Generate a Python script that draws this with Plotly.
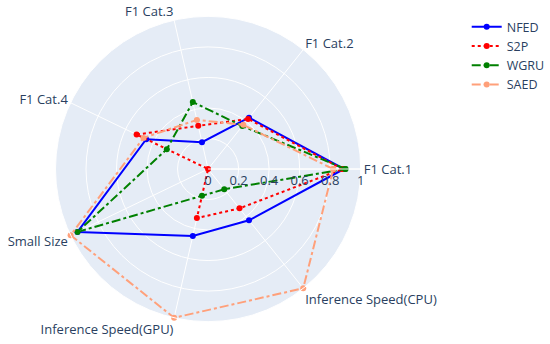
import plotly.graph_objects as go

categories = ["F1 Cat.1", "F1 Cat.2", "F1 Cat.3", "F1 Cat.4", "Small Size",
              "Inference Speed(GPU)", "Inference Speed(CPU)"]

nfed = [0.89, 0.43, 0.18, 0.45, 0.95, 0.45, 0.43]
s2p = [0.88, 0.42, 0.29, 0.52, 0.0, 0.33, 0.33]
wgru = [0.90, 0.36, 0.45, 0.30, 0.95, 0.18, 0.17]
saed = [0.82, 0.37, 0.33, 0.47, 1.0, 1.0, 1.0]

series = [
    ("NFED", nfed, "blue", "solid"),
    ("S2P", s2p, "red", "dot"),
    ("WGRU", wgru, "green", "dashdot"),
    ("SAED", saed, "lightsalmon", "dashdot"),
]

fig = go.Figure()
for name, vals, color, dash in series:
    fig.add_trace(go.Scatterpolar(
        r=vals + vals[:1],
        theta=categories + categories[:1],
        mode="lines+markers",
        name=name,
        line=dict(color=color, dash=dash, width=2),
        marker=dict(color=color, size=6),
    ))

W, H = 550, 344
fig.update_layout(
    template="plotly",
    width=W, height=H,
    margin=dict(l=0, r=0, t=0, b=0),
    font=dict(family="Open Sans", size=13, color="#2a3f5f"),
    polar=dict(
        domain=dict(x=[56/W, 364/W], y=[21/H, 329/H]),
        radialaxis=dict(range=[0, 1], tickvals=[0, 0.2, 0.4, 0.6, 0.8, 1],
                        ticktext=["0", "0.2", "0.4", "0.6", "0.8", "1"]),
        angularaxis=dict(direction="counterclockwise", rotation=0),
    ),
    legend=dict(x=471/W, y=1 - 12/H, xanchor="left", yanchor="top",
                font=dict(size=12.5)),
)

fig.write_html("out.html",
               config={"displayModeBar": False},
               post_script="document.body.style.margin='0px';document.body.style.overflow='hidden';")
